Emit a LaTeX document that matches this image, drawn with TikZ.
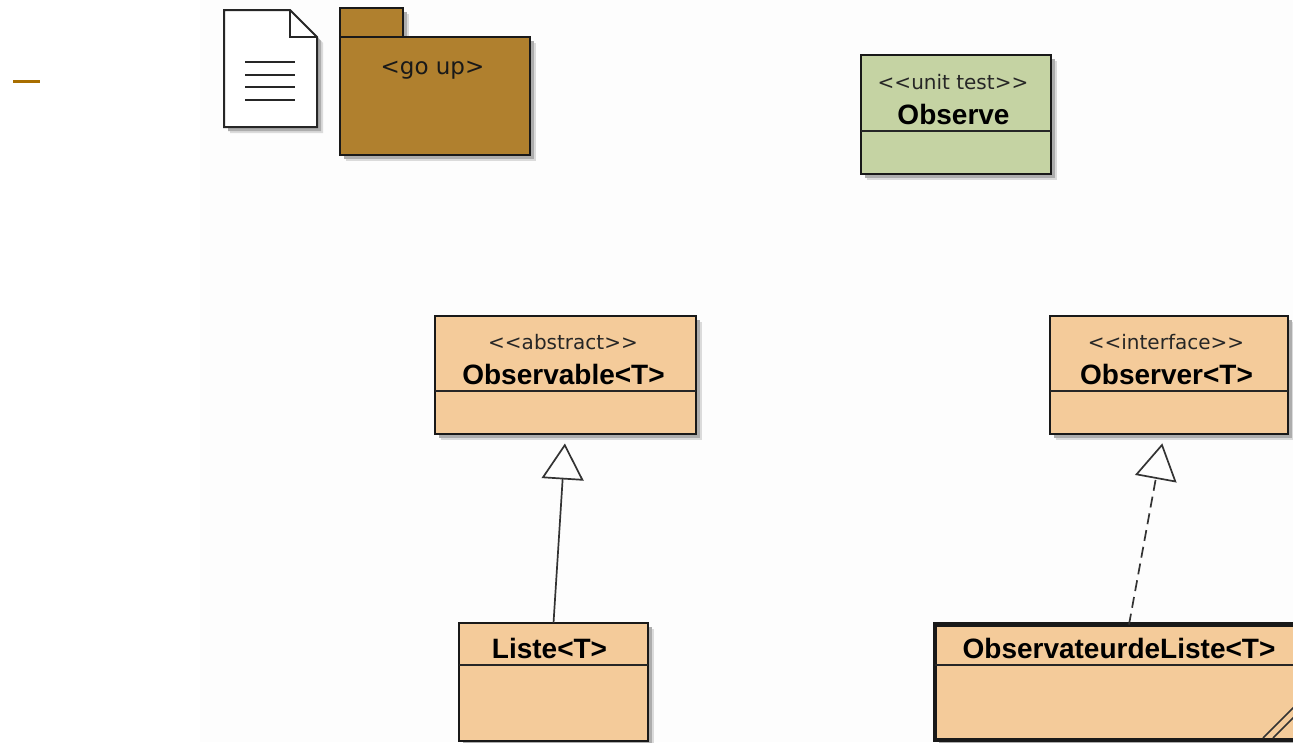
\documentclass[tikz,border=0pt]{standalone}
\usepackage{fontspec}
\setmainfont{Liberation Sans}
\newfontfamily\stereofont{DejaVu Sans}
\usetikzlibrary{arrows.meta,shadows}
\definecolor{classfill}{HTML}{F4CB9A}
\definecolor{testfill}{HTML}{C5D3A3}
\definecolor{pkgfill}{HTML}{B0802E}
\definecolor{dashcol}{HTML}{A86E00}
\definecolor{bgcol}{HTML}{FDFDFD}
\tikzset{
  softshadow/.style={drop shadow={shadow xshift=6pt,shadow yshift=-6pt,fill=black!14,opacity=1},drop shadow={shadow xshift=4pt,shadow yshift=-4pt,fill=black!32,opacity=1}},
  umlbox/.style={draw=black!90,line width=1.8pt,inner sep=0pt,outer sep=0pt,anchor=north west,softshadow},
  classbox/.style={umlbox,fill=classfill},
  divider/.style={draw=black!85,line width=1.4pt},
  stereo/.style={font=\fontsize{20}{20}\selectfont\stereofont,inner sep=0pt,text=black!85},
  cname/.style={font=\fontsize{28}{28}\selectfont\bfseries,inner sep=0pt},
  inherit/.style={line width=1.7pt,draw=black!80,shorten >=9.5pt,-{Triangle[open,length=36pt,width=42pt,line width=1.7pt]}},
  docline/.style={line width=2pt,draw=black!85},
}
\begin{document}
\begin{tikzpicture}[x=1pt,y=-1pt]
\useasboundingbox (0,0) rectangle (1293,742);
\begin{scope}
\clip (0,0) rectangle (1293,742);
\fill[white] (0,0) rectangle (1293,742);
\fill[bgcol] (200,0) rectangle (1293,742);
% dash
\fill[dashcol] (13,79.5) rectangle (40,82.5);
% document icon
\coordinate (d1) at (224,10);
\coordinate (d2) at (290,10);
\coordinate (d3) at (317,37);
\coordinate (d4) at (317,127);
\coordinate (d5) at (224,127);
\coordinate (d6) at (290,37);
\fill[black!14] (230,16) -- (296,16) -- (323,43) -- (323,133) -- (230,133) -- cycle;
\fill[black!32] (228,14) -- (294,14) -- (321,41) -- (321,131) -- (228,131) -- cycle;
\draw[docline,fill=white,line join=miter] (d1) -- (d2) -- (d3) -- (d4) -- (d5) -- cycle;
\draw[docline] (d2) -- (d6) -- (d3);
\foreach \yy in {61.5,74.5,86.5,99.5}{\draw[docline] (245,\yy) -- (295,\yy);}
% package
\node[umlbox,fill=pkgfill,minimum width=63pt,minimum height=29pt] (tab) at (340,8) {};
\node[umlbox,fill=pkgfill,minimum width=190pt,minimum height=118pt] (pkg) at (340,37) {};
\node[stereo,font=\fontsize{23}{23}\selectfont\stereofont,text=black!90] (pkgt) at (432.5,70) {<go up>};
% Observe
\node[umlbox,fill=testfill,minimum width=190pt,minimum height=119pt] (observe) at (861,55) {};
\draw[divider] (861,131) -- (1051,131);
\node[stereo] (observes) at (953,82) {<{}<unit test>{}>};
\node[cname] (observen) at (953.5,114.5) {Observe};
% Observable
\node[classbox,minimum width=261pt,minimum height=118pt] (observable) at (435,316) {};
\draw[divider] (435,391) -- (696,391);
\node[stereo] (observables) at (563,342) {<{}<abstract>{}>};
\node[cname] (observablen) at (563.5,374.5) {Observable<T>};
% Observer
\node[classbox,minimum width=238pt,minimum height=118pt] (observer) at (1050,316) {};
\draw[divider] (1050,391) -- (1288,391);
\node[stereo] (observers) at (1166,342) {<{}<interface>{}>};
\node[cname] (observern) at (1166.5,374.5) {Observer<T>};
% Liste
\node[classbox,minimum width=189pt,minimum height=118pt] (liste) at (459,623) {};
\draw[divider] (459,665) -- (648,665);
\node[cname] (listen) at (549.5,648.5) {Liste<T>};
% ObservateurdeListe
\node[classbox,line width=4.5pt,minimum width=372pt,minimum height=115.5pt] (obsl) at (935,624.5) {};
\draw[divider] (935,665) -- (1307,665);
\node[cname] (obsln) at (1119,648.5) {ObservateurdeListe<T>};
\draw[line width=1.6pt,draw=black!80] (1263,738) -- (1295,706);
\draw[line width=1.6pt,draw=black!80] (1273,738) -- (1295,716);
% connectors
\draw[inherit] (liste.north) -- (observable.south);
\coordinate (obsltop) at ([xshift=8pt]obsl.north);
\coordinate (observerfoot) at ([xshift=-5pt]observer.south);
\draw[inherit,dash pattern=on 11pt off 6pt] (obsltop) -- (observerfoot);
\end{scope}
\end{tikzpicture}
\end{document}
